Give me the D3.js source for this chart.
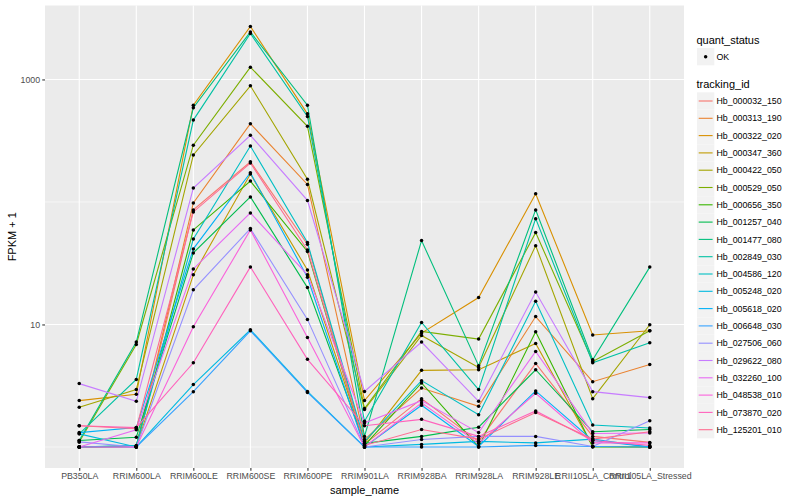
<!DOCTYPE html>
<html>
<head>
<meta charset="utf-8">
<script src="https://cdn.jsdelivr.net/npm/d3@7"></script>
<style>
  html, body { margin: 0; padding: 0; background: #fff; }
  svg { display: block; font-family: "Liberation Sans", Arial, Helvetica, sans-serif; }
</style>
</head>
<body>
<svg id="chart" width="800" height="500"></svg>
<script>
// ---- data (FPKM + 1) ----
const sampleNames = ["PB350LA", "RRIM600LA", "RRIM600LE", "RRIM600SE", "RRIM600PE", "RRIM901LA",
  "RRIM928BA", "RRIM928LA", "RRIM928LE", "RRII105LA_Control", "RRII105LA_Stressed"];

const trackingIds = ["Hb_000032_150", "Hb_000313_190", "Hb_000322_020", "Hb_000347_360", "Hb_000422_050",
  "Hb_000529_050", "Hb_000656_350", "Hb_001257_040", "Hb_001477_080", "Hb_002849_030", "Hb_004586_120",
  "Hb_005248_020", "Hb_005618_020", "Hb_006648_030", "Hb_027506_060", "Hb_029622_080", "Hb_032260_100",
  "Hb_048538_010", "Hb_073870_020", "Hb_125201_010"];

const Hb_000032_150 = [1.0, 1.0, 86.1, 213, 45.2, 1.05, 2.48, 1.11, 4.81, 1.22, 1.09];
const Hb_000313_190 = [1.0, 1.01, 98.1, 435, 139, 1.15, 3.03, 2.15, 11.6, 3.41, 4.72];
const Hb_000322_020 = [2.39, 2.69, 617, 2704, 524, 2.39, 8.51, 16.6, 116.8, 8.20, 8.88];
const Hb_000347_360 = [1.0, 1.01, 25.4, 169, 27.8, 1.07, 4.22, 4.27, 7.00, 1.01, 1.0];
const Hb_000422_050 = [2.11, 2.94, 242, 887, 153, 2.02, 8.13, 4.46, 44.0, 2.48, 9.94];
const Hb_000529_050 = [1.10, 6.87, 291, 1260, 414, 2.06, 8.77, 7.60, 56.2, 4.99, 8.88];
const Hb_000656_350 = [1.0, 1.02, 59.1, 148, 39.4, 1.03, 3.33, 1.0, 8.72, 1.0, 1.0];
const Hb_001257_040 = [1.13, 1.20, 38.4, 110, 20.0, 1.07, 1.22, 1.45, 4.27, 1.33, 1.39];
const Hb_001477_080 = [1.13, 7.19, 587, 2443, 617, 1.22, 48.4, 4.61, 86.1, 5.16, 29.4];
const Hb_002849_030 = [1.28, 3.56, 466, 2371, 499, 1.62, 10.4, 2.94, 73.1, 4.87, 7.09];
const Hb_004586_120 = [1.0, 1.03, 49.9, 286, 46.6, 1.11, 3.48, 1.83, 15.5, 1.51, 1.43];
const Hb_005248_020 = [1.28, 1.0, 3.23, 9.05, 2.84, 1.0, 1.05, 1.11, 1.08, 1.16, 1.0];
const Hb_005618_020 = [1.31, 1.44, 41.4, 173, 24.3, 1.0, 2.19, 1.01, 2.87, 1.13, 1.0];
const Hb_006648_030 = [1.0, 1.0, 2.83, 8.88, 2.79, 1.0, 1.0, 1.0, 1.03, 1.01, 1.0];
const Hb_027506_060 = [1.10, 1.0, 19.2, 60.6, 11.0, 1.0, 1.15, 1.22, 1.22, 1.01, 1.64];
const Hb_029622_080 = [3.29, 2.36, 130, 350, 103, 2.84, 7.19, 2.36, 18.4, 2.83, 2.53];
const Hb_032260_100 = [1.0, 1.38, 28.4, 81.4, 25.4, 1.57, 2.39, 1.31, 6.03, 1.29, 1.30];
const Hb_048538_010 = [1.0, 1.0, 9.58, 59.1, 7.83, 1.0, 2.29, 1.07, 2.74, 1.08, 1.08];
const Hb_073870_020 = [1.49, 1.44, 4.87, 29.5, 5.19, 1.49, 1.68, 1.22, 1.97, 1.13, 1.03];
const Hb_125201_010 = [1.49, 1.41, 82.9, 208, 40.6, 1.03, 1.39, 1.16, 1.91, 1.16, 1.33];

const yTickValues = [10, 1000];
const yTickLabels = ["10", "1000"];
const quantStatus = ["OK"];

// ---- style ----
const palette = ["#F8766D", "#EA8331", "#D89000", "#C09B00", "#A3A500", "#7CAE00", "#39B600", "#00BB4E",
  "#00BF7D", "#00C1A3", "#00BFC4", "#00BAE0", "#00B0F6", "#35A2FF", "#9590FF", "#C77CFF", "#E76BF3",
  "#FA62DB", "#FF62BC", "#FF6C91"];

const seriesValues = [Hb_000032_150, Hb_000313_190, Hb_000322_020, Hb_000347_360, Hb_000422_050,
  Hb_000529_050, Hb_000656_350, Hb_001257_040, Hb_001477_080, Hb_002849_030, Hb_004586_120,
  Hb_005248_020, Hb_005618_020, Hb_006648_030, Hb_027506_060, Hb_029622_080, Hb_032260_100,
  Hb_048538_010, Hb_073870_020, Hb_125201_010];

const series = trackingIds.map((id, i) => ({
  id, color: palette[i],
  values: seriesValues[i].map((v, j) => ({ sample: sampleNames[j], value: v }))
}));

const svg = d3.select("#chart");
const panel = { left: 45, right: 684, top: 5.5, bottom: 468 };

// y log scale with ggplot-like 5% expansion in log space
const allVals = seriesValues.flat();
const lmin = Math.log10(d3.min(allVals)), lmax = Math.log10(d3.max(allVals));
const pad = (lmax - lmin) * 0.05;
const y = d3.scaleLog()
  .domain([Math.pow(10, lmin - pad), Math.pow(10, lmax + pad)])
  .range([panel.bottom, panel.top]);

const x = d3.scalePoint()
  .domain(sampleNames)
  .range([panel.left, panel.right])
  .padding(0.6);

// panel background
svg.append("rect")
  .attr("x", panel.left).attr("y", panel.top)
  .attr("width", panel.right - panel.left).attr("height", panel.bottom - panel.top)
  .attr("fill", "#EBEBEB");

const grid = svg.append("g");
// minor gridlines (midpoints in log space between major breaks)
const minorVals = [1, 100];
grid.selectAll("line.minor").data(minorVals).enter().append("line")
  .attr("x1", panel.left).attr("x2", panel.right)
  .attr("y1", d => y(d)).attr("y2", d => y(d))
  .attr("stroke", "#fff").attr("stroke-width", 0.55);
grid.selectAll("line.majorY").data(yTickValues).enter().append("line")
  .attr("x1", panel.left).attr("x2", panel.right)
  .attr("y1", d => y(d)).attr("y2", d => y(d))
  .attr("stroke", "#fff").attr("stroke-width", 1.1);
grid.selectAll("line.majorX").data(sampleNames).enter().append("line")
  .attr("y1", panel.top).attr("y2", panel.bottom)
  .attr("x1", d => x(d)).attr("x2", d => x(d))
  .attr("stroke", "#fff").attr("stroke-width", 1.1);

// lines
const line = d3.line().x(d => x(d.sample)).y(d => y(d.value));
svg.append("g").selectAll("path").data(series).enter().append("path")
  .attr("d", d => line(d.values))
  .attr("fill", "none")
  .attr("stroke", d => d.color)
  .attr("stroke-width", 1.1);

// points
svg.append("g").selectAll("g").data(series).enter().append("g")
  .selectAll("circle").data(d => d.values).enter().append("circle")
  .attr("cx", d => x(d.sample)).attr("cy", d => y(d.value))
  .attr("r", 1.75).attr("fill", "#000");

// axes
const yAxis = d3.axisLeft(y).tickValues(yTickValues)
  .tickFormat((d, i) => yTickLabels[i]).tickSize(2.75).tickPadding(2.2);
const gy = svg.append("g").attr("transform", `translate(${panel.left},0)`).call(yAxis);
gy.select(".domain").remove();
gy.selectAll(".tick line").attr("stroke", "#333333").attr("stroke-width", 1.07);
gy.selectAll(".tick text").attr("fill", "#4D4D4D").attr("font-size", "8.8px")
  .attr("font-family", "'Liberation Sans', Arial, sans-serif");

const xAxis = d3.axisBottom(x).tickSize(2.75).tickPadding(2.2);
const gx = svg.append("g").attr("transform", `translate(0,${panel.bottom})`).call(xAxis);
gx.select(".domain").remove();
gx.selectAll(".tick line").attr("stroke", "#333333").attr("stroke-width", 1.07);
gx.selectAll(".tick text").attr("fill", "#4D4D4D").attr("font-size", "8.8px")
  .attr("font-family", "'Liberation Sans', Arial, sans-serif");

// axis titles
svg.append("text").attr("x", (panel.left + panel.right) / 2).attr("y", 494)
  .attr("text-anchor", "middle").attr("font-size", "11px").attr("fill", "#000").text("sample_name");
svg.append("text").attr("transform", `translate(16,${(panel.top + panel.bottom) / 2}) rotate(-90)`)
  .attr("text-anchor", "middle").attr("font-size", "11px").attr("fill", "#000").text("FPKM + 1");

// legend: quant_status
const lg = svg.append("g");
const keyX = 697, keyW = 17.3, labelX = 716.5;
lg.append("text").attr("x", keyX - 0.5).attr("y", 44).attr("font-size", "11px").attr("fill", "#000").text("quant_status");
quantStatus.forEach((q, i) => {
  const cy = 56.7 + i * keyW;
  lg.append("rect").attr("x", keyX).attr("y", cy - keyW / 2).attr("width", keyW).attr("height", keyW).attr("fill", "#F2F2F2");
  lg.append("circle").attr("cx", keyX + keyW / 2).attr("cy", cy).attr("r", 1.75).attr("fill", "#000");
  lg.append("text").attr("x", labelX).attr("y", cy + 3.1).attr("font-size", "8.8px").attr("fill", "#000").text(q);
});

// legend: tracking_id
lg.append("text").attr("x", keyX - 0.5).attr("y", 88).attr("font-size", "11px").attr("fill", "#000").text("tracking_id");
const items = lg.selectAll("g.item").data(series).enter().append("g")
  .attr("transform", (d, i) => `translate(0,${101 + i * keyW})`);
items.append("rect").attr("x", keyX).attr("y", -keyW / 2).attr("width", keyW).attr("height", keyW).attr("fill", "#F2F2F2");
items.append("line").attr("x1", keyX + 1.7).attr("x2", keyX + keyW - 1.7).attr("y1", 0).attr("y2", 0)
  .attr("stroke", d => d.color).attr("stroke-width", 1.1);
items.append("text").attr("x", labelX).attr("y", 3.1).attr("font-size", "8.8px").attr("fill", "#000").text(d => d.id);
</script>
</body>
</html>
